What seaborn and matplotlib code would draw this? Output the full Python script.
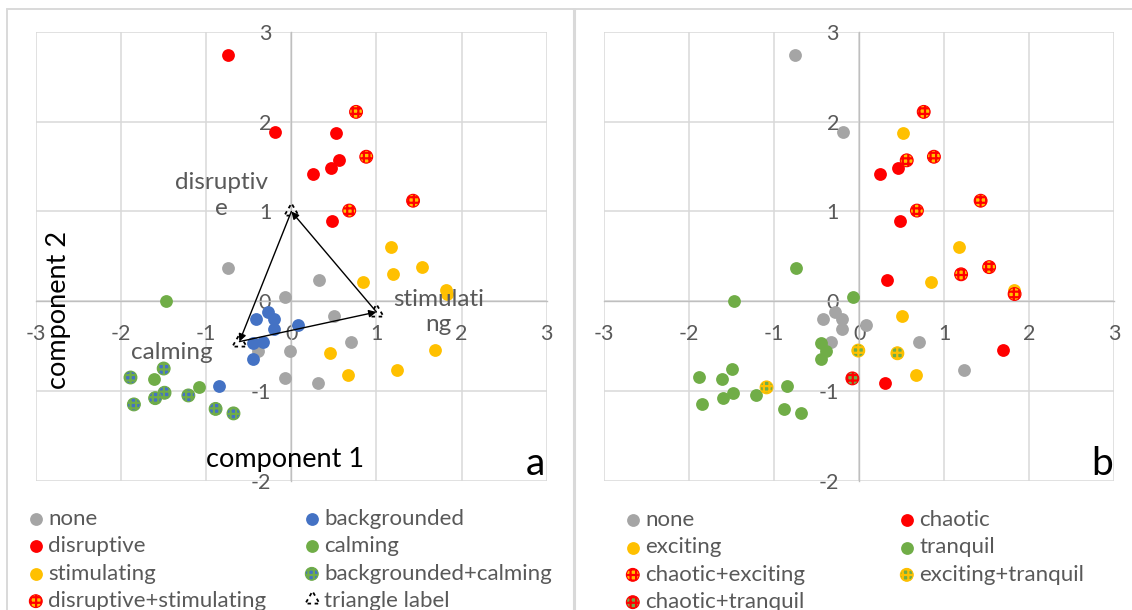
import matplotlib
matplotlib.use("Agg")
import matplotlib.pyplot as plt
from matplotlib.path import Path
from matplotlib.lines import Line2D
import pandas as pd
import seaborn as sns

# Scores of the 50 stimuli on the two components
component_1 = [-0.75, -0.19, 0.52, 0.56, 0.46, 0.25, 0.48, 0.76, 0.88, 0.68,
               1.43, 1.17, 1.53, 1.20, 0.84, 1.82, 0.45, 1.69, 0.67, 1.24,
               -0.74, 0.33, -0.07, 0.50, 0.70, -0.01, -0.39, -0.08, 0.31, -1.47,
               -1.61, -1.09, -1.89, -1.50, -1.49, -1.60, -1.85, -1.21, -0.89, -0.68,
               -0.28, -0.42, -0.20, -0.20, 0.08, -0.45, -0.33, -0.45, -0.85, 1.83]
component_2 = [2.74, 1.89, 1.88, 1.57, 1.48, 1.42, 0.89, 2.11, 1.61, 1.01,
               1.12, 0.60, 0.38, 0.30, 0.21, 0.13, -0.58, -0.54, -0.82, -0.77,
               0.37, 0.24, 0.05, -0.16, -0.45, -0.55, -0.55, -0.86, -0.91, 0.00,
               -0.87, -0.96, -0.85, -0.75, -1.02, -1.08, -1.15, -1.05, -1.20, -1.25,
               -0.12, -0.20, -0.20, -0.31, -0.27, -0.47, -0.45, -0.64, -0.94, 0.08]

# Annotation of each stimulus, scheme a
category_a = (["disruptive"] * 7 + ["disruptive+stimulating"] * 4 + ["stimulating"] * 9
              + ["none"] * 9 + ["calming"] * 3 + ["backgrounded+calming"] * 8
              + ["backgrounded"] * 9 + ["stimulating"])

# Annotation of each stimulus, scheme b
category_b = ["none", "none", "exciting", "chaotic+exciting", "chaotic", "chaotic", "chaotic",
              "chaotic+exciting", "chaotic+exciting", "chaotic+exciting", "chaotic+exciting",
              "exciting", "chaotic+exciting", "chaotic+exciting", "exciting", "exciting",
              "exciting+tranquil", "chaotic", "exciting", "none",
              "tranquil", "chaotic", "tranquil", "exciting", "none", "exciting+tranquil",
              "tranquil", "chaotic+tranquil", "chaotic",
              "tranquil", "tranquil", "exciting+tranquil"] + ["tranquil"] * 8 + \
             ["none", "none", "none", "none", "none", "tranquil", "none", "tranquil",
              "tranquil", "chaotic+exciting"]

# Triangle spanned by the three scheme-a labels
triangle_x = [0.0, -0.61, 1.0]
triangle_y = [1.0, -0.45, -0.12]
triangle_text = ["disruptiv\ne", "calming", "stimulati\nng"]

x_ticks = [-3, -2, -1, 0, 1, 2, 3]
y_ticks = [-2, -1, 0, 1, 2, 3]

GREY = "#A5A5A5"
BLUE = "#4472C4"
RED = "#FF0000"
GREEN = "#70AD47"
YELLOW = "#FFC000"
TEXT = "#595959"
GRID = "#D9D9D9"

# label -> (fill colour, pattern colour)
style_a = {
    "none": (GREY, None),
    "backgrounded": (BLUE, None),
    "disruptive": (RED, None),
    "calming": (GREEN, None),
    "stimulating": (YELLOW, None),
    "backgrounded+calming": (BLUE, GREEN),
    "disruptive+stimulating": (YELLOW, RED),
}
style_b = {
    "none": (GREY, None),
    "chaotic": (RED, None),
    "exciting": (YELLOW, None),
    "tranquil": (GREEN, None),
    "chaotic+exciting": (YELLOW, RED),
    "exciting+tranquil": (GREEN, YELLOW),
    "chaotic+tranquil": (GREEN, RED),
}
legend_cols_a = [["none", "disruptive", "stimulating", "disruptive+stimulating"],
                 ["backgrounded", "calming", "backgrounded+calming", "triangle label"]]
legend_cols_b = [["none", "exciting", "chaotic+exciting", "chaotic+tranquil"],
                 ["chaotic", "tranquil", "exciting+tranquil"]]

sns.set_theme(style="white")
plt.rcParams["font.family"] = ["Lato", "DejaVu Sans"]
plt.rcParams["hatch.linewidth"] = 1.6

W, H = 1132, 610
fig = plt.figure(figsize=(W / 100, H / 100), dpi=100)


def fx(px):
    return px / W


def fy(py):
    return 1 - py / H


df = pd.DataFrame({"c1": component_1, "c2": component_2,
                   "cat_a": category_a, "cat_b": category_b})

# dashed triangle used as the marker of the triangle vertices
tri_pts = [(0.0, 1.0), (-0.87, -0.5), (0.87, -0.5)]
verts, codes = [], []
for i in range(3):
    (x0, y0), (x1, y1) = tri_pts[i], tri_pts[(i + 1) % 3]
    for t0, t1 in [(0.15, 0.4), (0.65, 0.9)]:
        verts += [(x0 + (x1 - x0) * t0, y0 + (y1 - y0) * t0),
                  (x0 + (x1 - x0) * t1, y0 + (y1 - y0) * t1)]
        codes += [Path.MOVETO, Path.LINETO]
tri_marker = Path(verts, codes)


def setup_axes(ax):
    ax.set_xlim(-3, 3)
    ax.set_ylim(-2, 3)
    ax.set_xticks(x_ticks)
    ax.set_yticks(y_ticks)
    ax.set_xticklabels([str(t) for t in x_ticks])
    ax.set_yticklabels([str(t) for t in y_ticks])
    ax.set_axisbelow(True)
    ax.grid(True, color=GRID, lw=1.1)
    for ln in ax.get_xgridlines() + ax.get_ygridlines():
        ln.set_clip_on(False)
    for s in ("top", "right"):
        ax.spines[s].set_visible(False)
    ax.spines["left"].set_position(("data", 0))
    ax.spines["bottom"].set_position(("data", 0))
    for s in ("left", "bottom"):
        ax.spines[s].set_color("#BFBFBF")
        ax.spines[s].set_linewidth(1.0)
    ax.tick_params(axis="x", length=0, pad=16.5, labelsize=15.5, labelcolor=TEXT)
    ax.tick_params(axis="y", length=0, pad=14.5, labelsize=15.5, labelcolor=TEXT)


def draw_points(ax, column, styles):
    handles = {}
    for label, (face, pattern) in styles.items():
        sub = df[df[column] == label]
        kw = dict(s=85, linewidth=0, zorder=3)
        if pattern is not None:
            kw.update(hatch="+++", edgecolor=pattern, linewidth=0.8)
        sns.scatterplot(data=sub, x="c1", y="c2", ax=ax, color=face,
                        legend=False, **kw)
        handles[label] = ax.collections[-1]
    ax.set_xlabel("")
    ax.set_ylabel("")
    return handles


def add_legend(handles, labels, x_marker, y_top):
    leg = fig.legend([handles[l] for l in labels], labels, loc="upper left",
                     bbox_to_anchor=(fx(x_marker - 8), fy(y_top)),
                     frameon=False, fontsize=16, handlelength=0.7,
                     handletextpad=0.2, borderpad=0, borderaxespad=0,
                     labelspacing=0.33, labelcolor=TEXT, scatterpoints=1)
    return leg


# ---- panel a ----
ax_a = fig.add_axes([fx(36), fy(480.7), fx(510.7), 448.7 / H])
setup_axes(ax_a)
handles_a = draw_points(ax_a, "cat_a", style_a)

n = len(triangle_x)
for i in range(n):
    j = (i + 1) % n
    ax_a.annotate("", xy=(triangle_x[j], triangle_y[j]),
                  xytext=(triangle_x[i], triangle_y[i]),
                  arrowprops=dict(arrowstyle="-|>", color="black", lw=1.0,
                                  mutation_scale=11, shrinkA=0, shrinkB=0),
                  zorder=4)
ax_a.plot(triangle_x, triangle_y, linestyle="none", marker=tri_marker,
          markersize=10, markerfacecolor="none", markeredgecolor="black",
          markeredgewidth=1.3, zorder=5)
handles_a["triangle label"] = Line2D([], [], linestyle="none", marker=tri_marker,
                                     markersize=10, markerfacecolor="none",
                                     markeredgecolor="black", markeredgewidth=1.3)

label_offsets = [(-70, 16), (-68, -11), (62, 0)]
for vx, vy, txt, (dx, dy) in zip(triangle_x, triangle_y, triangle_text, label_offsets):
    ax_a.annotate(txt, xy=(vx, vy), xytext=(dx, dy), textcoords="offset pixels",
                  ha="center", va="center", color=TEXT, fontsize=17.5,
                  linespacing=1.25, zorder=6)

ax_a.text(0.045, 0.38, "component 2", transform=ax_a.transAxes, rotation=90,
          ha="center", va="center", fontsize=19.5, color="black")
ax_a.text(0.4876, 0.0305, "component 1", transform=ax_a.transAxes,
          ha="center", va="baseline", fontsize=19.5, color="black")
ax_a.text(0.977, 0.0127, "a", transform=ax_a.transAxes,
          ha="center", va="baseline", fontsize=28, color="black")

# ---- panel b ----
ax_b = fig.add_axes([fx(604.3), fy(480.7), fx(509.7), 448.7 / H])
setup_axes(ax_b)
handles_b = draw_points(ax_b, "cat_b", style_b)
ax_b.text(0.9765, 0.0127, "b", transform=ax_b.transAxes,
          ha="center", va="baseline", fontsize=28, color="black")

# ---- legends ----
add_legend(handles_a, legend_cols_a[0], 36, 509)
add_legend(handles_a, legend_cols_a[1], 312, 509)
add_legend(handles_b, legend_cols_b[0], 633, 510)
add_legend(handles_b, legend_cols_b[1], 907, 510)

# ---- chart area borders ----
for (x0, y0, x1, y1, lw) in [(7, 9, 7, H, 1.4), (7, 9, W, 9, 1.4), (574, 9, 574, H, 2.2)]:
    fig.add_artist(Line2D([fx(x0), fx(x1)], [fy(y0), fy(y1)], color=GRID, lw=lw))

fig.savefig("out.png", dpi=100)
